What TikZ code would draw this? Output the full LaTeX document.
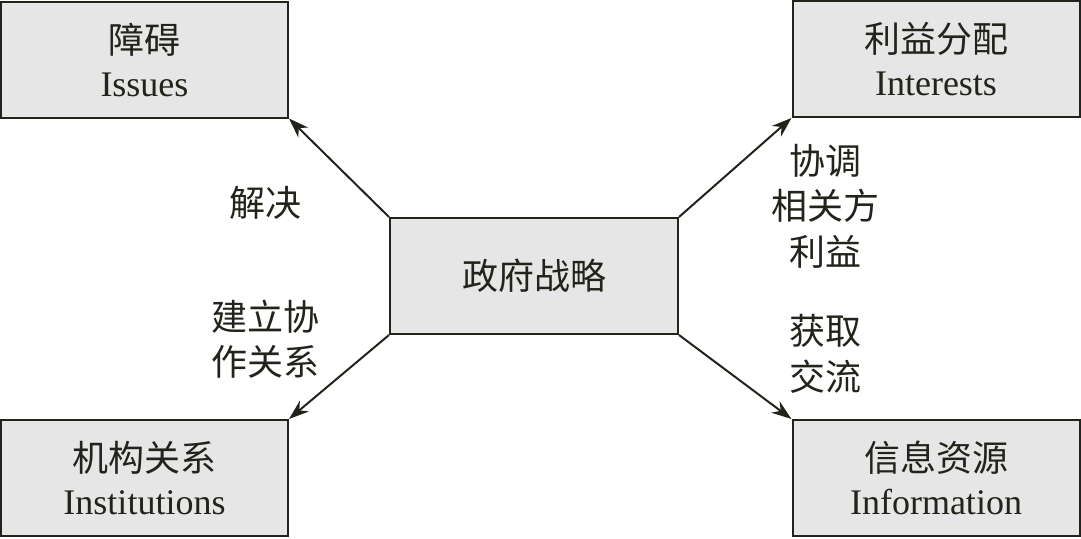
\documentclass[tikz,border=0pt]{standalone}
\usepackage{fontspec}
\setmainfont{Liberation Serif}
\newfontfamily\cjk{Noto Sans CJK SC}
\usetikzlibrary{arrows.meta}
\definecolor{boxfill}{RGB}{230,230,230}
\definecolor{ink}{RGB}{35,35,28}
\tikzset{
  box/.style={draw=ink, fill=boxfill, line width=2pt, rectangle, inner sep=0pt,
    minimum width=287pt, minimum height=116pt, align=center, text=ink,
    font=\fontsize{36}{43}\selectfont},
  link/.style={draw=ink, line width=2pt, -{Stealth[length=20pt,width=14pt]}},
  lbl/.style={align=center, text=ink, inner sep=0pt, font=\fontsize{36}{45.5}\selectfont\cjk}
}
\begin{document}
\begin{tikzpicture}[x=1pt,y=-1pt]
\useasboundingbox (0,0) rectangle (1081,538);
\node[box] (tl) at (144.5,59.5) {{\cjk 障碍}\\Issues};
\node[box] (tr) at (936,59) {{\cjk 利益分配}\\Interests};
\node[box] (bl) at (144.5,478) {{\cjk 机构关系}\\Institutions};
\node[box] (br) at (936,478) {{\cjk 信息资源}\\Information};
\node[box, minimum width=288pt] (c) at (534,276) {\cjk 政府战略};
\draw[link] (c.north west) -- (tl.south east);
\draw[link] (c.north east) -- (tr.south west);
\draw[link] (c.south west) -- (bl.north east);
\draw[link] (c.south east) -- (br.north west);
\node[lbl] (l1) at (265,203) {解决};
\node[lbl] (l2) at (265,339) {建立协\\作关系};
\node[lbl] (l3) at (825,206) {协调\\相关方\\利益};
\node[lbl] (l4) at (825,354) {获取\\交流};
\end{tikzpicture}
\end{document}
